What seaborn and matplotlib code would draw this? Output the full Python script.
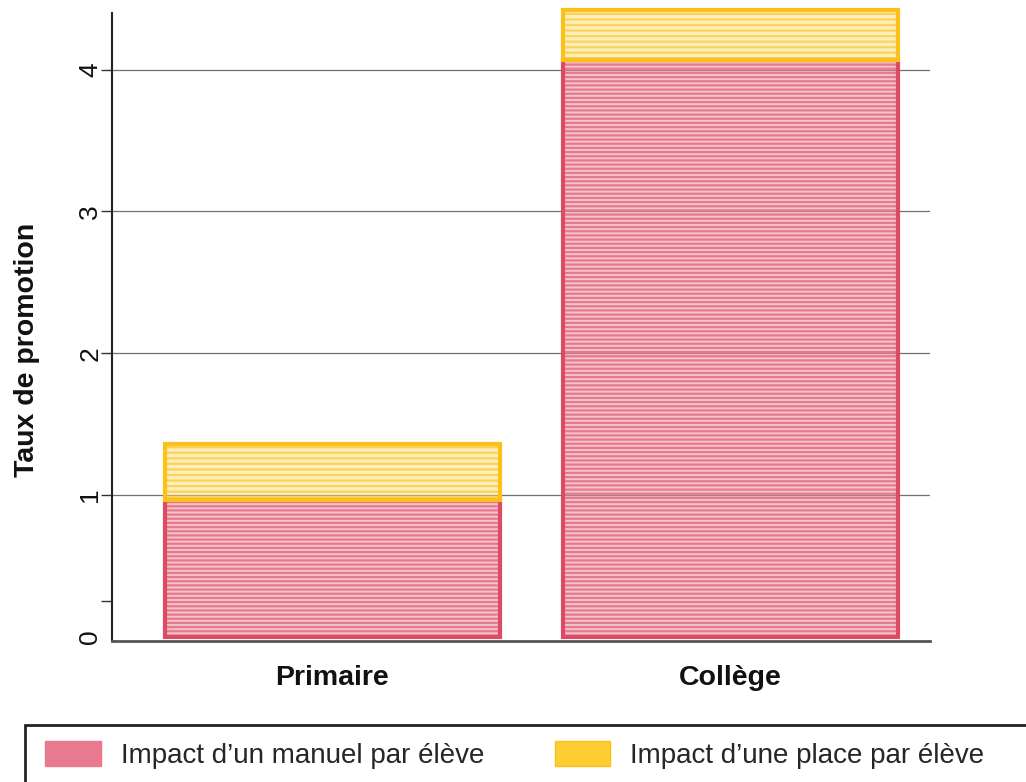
import matplotlib
matplotlib.use("Agg")
import matplotlib.pyplot as plt
from matplotlib.patches import Patch, Rectangle
import seaborn as sns
import pandas as pd

categories = ["Primaire", "Collège"]
manuel = [0.965, 4.07]
place = [0.395, 0.35]
yticks = [0, 1, 2, 3, 4]
ylabel = "Taux de promotion"
series_labels = ["Impact d’un manuel par élève", "Impact d’une place par élève"]

red_fill = (0.91, 0.55, 0.61, 0.5)
red_hatch = "#e8788c"
red_edge = "#dc4b63"
yel_fill = (0.99, 0.87, 0.47, 0.5)
yel_hatch = "#fcd25a"
yel_edge = "#fbc01a"

sns.set_theme(style="white")
plt.rcParams['font.family'] = ['Liberation Sans', 'DejaVu Sans']
plt.rcParams['hatch.linewidth'] = 1.6

df = pd.DataFrame({"cat": categories, "manuel": manuel, "place": place})

fig = plt.figure(figsize=(10.26, 7.82), dpi=100)
ax = fig.add_axes([112 / 1026, 141 / 782, 818 / 1026, 628 / 782])

common = dict(data=df, x="cat", order=categories, ax=ax, width=0.84, errorbar=None)

# manuel layer
sns.barplot(y="manuel", color=red_edge, facecolor=red_fill, edgecolor=red_hatch, linewidth=0,
            hatch="----", zorder=2, **common)
sns.barplot(y="manuel", color=red_edge, facecolor="none", edgecolor=red_edge, linewidth=3,
            zorder=3, **common)
# place layer stacked
sns.barplot(y="place", color=yel_edge, bottom=manuel, facecolor=yel_fill, edgecolor=yel_hatch,
            linewidth=0, hatch="---", zorder=2, **common)
sns.barplot(y="place", color=yel_edge, bottom=manuel, facecolor="none", edgecolor=yel_edge,
            linewidth=3, zorder=3, **common)

for p in ax.patches:
    p.set_clip_on(False)

ax.set_xlim(-0.553, 1.50)
ax.set_ylim(-0.03, 4.40)
ax.set_yticks(yticks)
ax.set_yticks([0.25], minor=True)
ax.set_yticklabels([str(t) for t in yticks], rotation=90, va="center")
ax.yaxis.grid(True, which="major", color="#707070", linewidth=0.9)
ax.set_axisbelow(True)

for s in ["top", "right"]:
    ax.spines[s].set_visible(False)
ax.spines["left"].set_color("#222222")
ax.spines["left"].set_linewidth(1.5)
ax.spines["bottom"].set_color("#555555")
ax.spines["bottom"].set_linewidth(2)

ax.tick_params(axis="y", which="both", left=True, length=8, width=1,
               color="#333333", labelsize=19, pad=-1, labelcolor="#111111")
ax.tick_params(axis="x", length=0, pad=17)
for lab in ax.get_xticklabels():
    lab.set_fontweight("bold")
    lab.set_fontsize(20.5)
    lab.set_color("#111111")

t0 = ax.yaxis.get_major_ticks()[0]
t0.tick1line.set_visible(False)
t0.gridline.set_visible(False)

ax.set_xlabel("")
ax.set_ylabel(ylabel, fontsize=20.5, fontweight="bold", color="#111111")
ax.yaxis.set_label_coords(-0.088, 0.463)

# legend
fig.patches.append(Rectangle((25 / 1026, -0.05), 1.05, 0.05 + 1 - 725 / 782,
                             transform=fig.transFigure, fill=False,
                             edgecolor="#222222", linewidth=2))
handles = [Patch(facecolor=(0.90, 0.42, 0.51, 0.9), edgecolor=red_hatch),
           Patch(facecolor=(0.99, 0.80, 0.15, 0.95), edgecolor=yel_edge)]
fig.legend(handles, series_labels, loc="center left",
           bbox_to_anchor=(45 / 1026, 1 - 755 / 782), ncol=2, frameon=False,
           borderpad=0, borderaxespad=0, handlelength=2.0, handleheight=1.0,
           handletextpad=0.72, columnspacing=2.55,
           prop={"family": ["Liberation Sans"], "size": 20})

fig.savefig("out.png", dpi=100)
